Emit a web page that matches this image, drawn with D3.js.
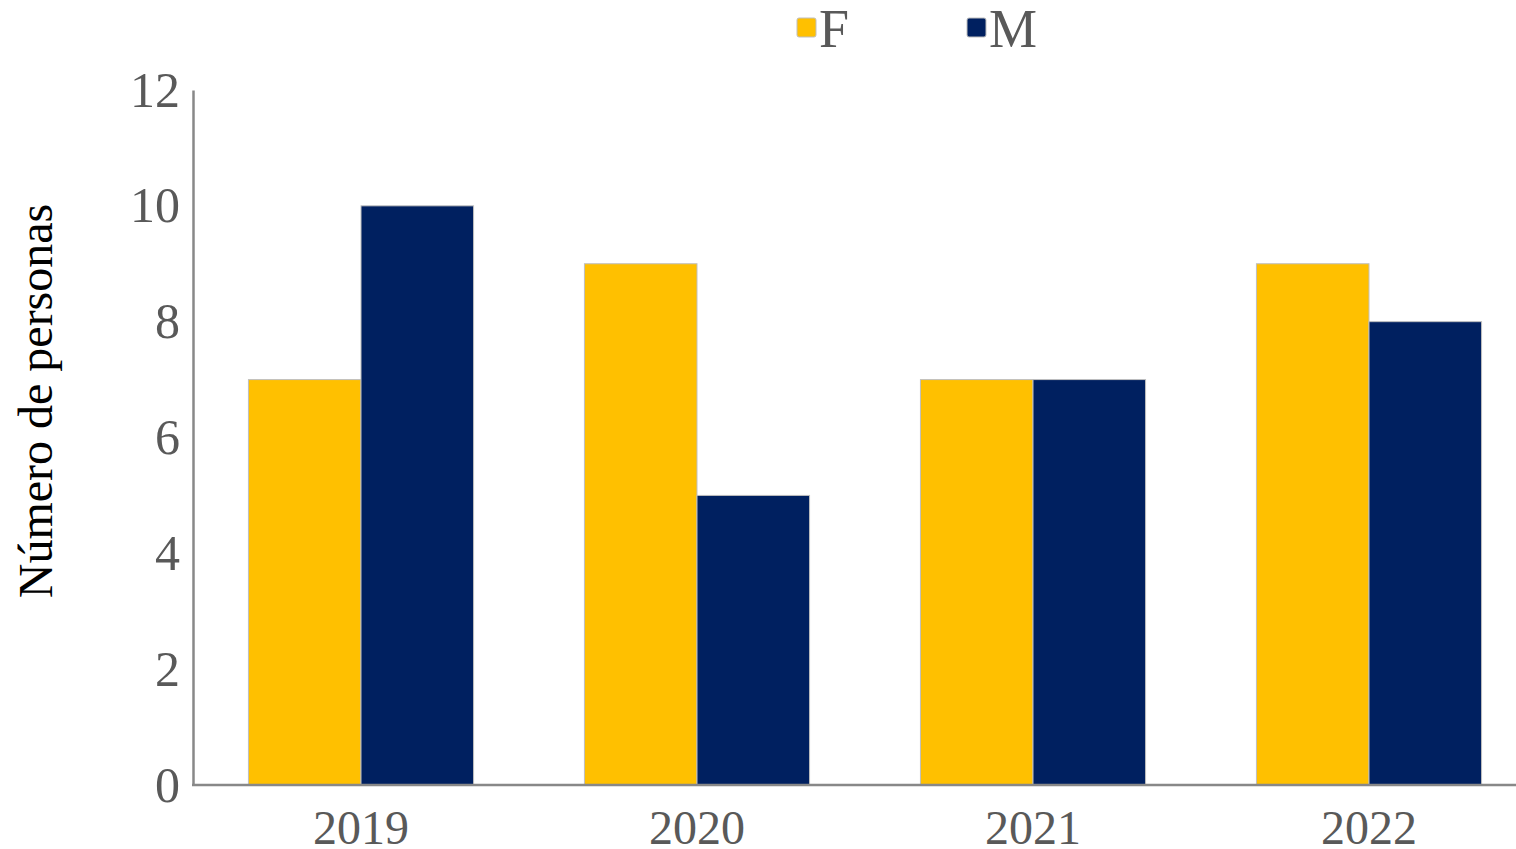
<!DOCTYPE html>
<html><head><meta charset="utf-8">
<script src="https://cdn.jsdelivr.net/npm/d3@7"></script>
<style>body{margin:0;background:#fff}svg{display:block}</style>
</head><body>
<svg id="c" width="1516" height="849"></svg>
<script>
const categories = ["2019","2020","2021","2022"];
const seriesNames = ["F","M"];
const valuesF = [7, 9, 7, 9];
const valuesM = [10, 5, 7, 8];
const yTicks = [0,2,4,6,8,10,12];
const colors = {F:"#FFC000", M:"#002060"};

const svg = d3.select("#c");
const font = "'Liberation Serif','Times New Roman',serif";
const x0 = 193, x1 = 1537, yTop = 90, yBot = 785;

const x = d3.scaleBand().domain(categories).range([x0, x1]).paddingInner(0.33).paddingOuter(0.165);
const xs = d3.scaleBand().domain(seriesNames).range([0, x.bandwidth()]);
const y = d3.scaleLinear().domain([0,12]).range([yBot, yTop]);

const data = categories.map((c,i)=>({cat:c, F:valuesF[i], M:valuesM[i]}));

const g = svg.append("g");
g.selectAll("g.cat").data(data).join("g")
  .attr("transform", d=>`translate(${x(d.cat)},0)`)
  .selectAll("rect").data(d=>seriesNames.map(s=>({s, v:d[s]}))).join("rect")
  .attr("x", d=>xs(d.s)).attr("width", xs.bandwidth())
  .attr("y", d=>y(d.v)).attr("height", d=>yBot - y(d.v))
  .attr("fill", d=>colors[d.s]).attr("stroke","#bfbfbf").attr("stroke-width",1);

// y axis
const ya = svg.append("g").attr("transform",`translate(${x0},0)`)
  .call(d3.axisLeft(y).tickValues(yTicks).tickSize(0).tickPadding(13));
ya.select(".domain").attr("stroke","#888").attr("stroke-width",2.5);
ya.selectAll("text").attr("font-family",font).attr("font-size",50).attr("fill","#595959");

// x axis
const xa = svg.append("g").attr("transform",`translate(0,${yBot})`)
  .call(d3.axisBottom(x).tickSize(0).tickPadding(25));
xa.select(".domain").remove();
xa.selectAll("text").attr("font-family",font).attr("font-size",48).attr("fill","#595959");
svg.append("line").attr("x1",x0-1).attr("x2",1516).attr("y1",yBot).attr("y2",yBot)
  .attr("stroke","#888").attr("stroke-width",2.5);

// axis title
svg.append("text").attr("transform","translate(52,401) rotate(-90)")
  .attr("text-anchor","middle").attr("font-family",font).attr("font-size",48).attr("fill","#000")
  .text("Número de personas");

// legend
const legX = [797, 967];
const lg = svg.selectAll("g.leg").data(seriesNames).join("g")
  .attr("transform",(d,i)=>`translate(${legX[i]},18)`);
lg.append("rect").attr("width",19).attr("height",19).attr("rx",2).attr("fill",d=>colors[d]).attr("stroke","#bfbfbf").attr("stroke-width",1);
lg.append("text").attr("x",22).attr("y",29).attr("font-family",font).attr("font-size",54)
  .attr("fill","#595959").text(d=>d);
</script>
</body></html>
